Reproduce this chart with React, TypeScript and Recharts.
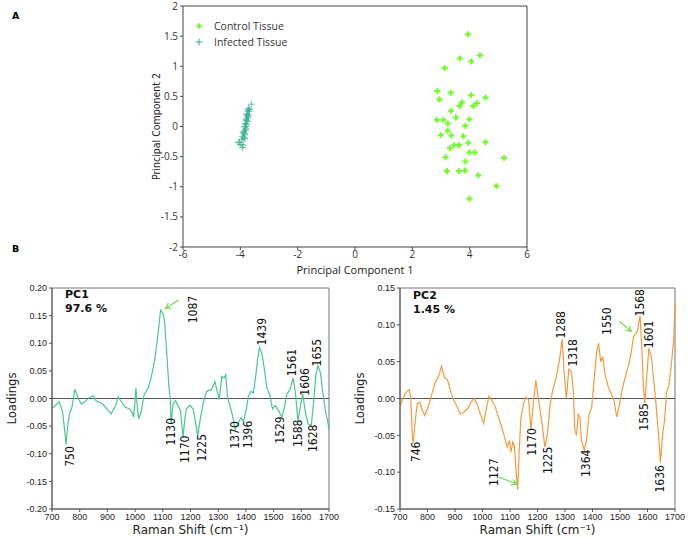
import React from 'react';
import {
  ScatterChart, Scatter, LineChart, Line, XAxis, YAxis, Legend,
  ReferenceLine, ReferenceArea, ReferenceDot,
} from 'recharts';

// ---- panel A: PCA scores ----
const CTRL_X = [3.94, 3.66, 4.36, 4.05, 3.13, 2.87, 3.34, 2.94, 4.05, 4.55, 3.73, 3.65, 4.26, 4.13, 3.35, 2.86, 3.08, 3.52, 3.99, 3.24,
  3.85, 3.23, 2.99, 3.36, 3.78, 3.95, 4.55, 3.45, 3.63, 3.31, 3.99, 4.18, 3.16, 5.20, 3.85, 3.21, 3.63, 3.84, 4.30, 4.93, 3.99];
const CTRL_Y = [1.53, 1.13, 1.18, 1.08, 0.97, 0.59, 0.56, 0.45, 0.52, 0.48, 0.40, 0.34, 0.39, 0.34, 0.26, 0.11, 0.11, 0.15, 0.12, 0.05,
  0.01, -0.07, -0.14, -0.15, -0.16, -0.27, -0.26, -0.31, -0.31, -0.36, -0.43, -0.43, -0.51, -0.52, -0.58, -0.74, -0.74, -0.73, -0.81, -0.99, -1.20];

const INF_X = [-3.62, -3.74, -3.70, -3.78, -3.72, -3.80, -3.74, -3.83, -3.78, -3.85, -3.81, -3.90, -3.86, -3.92, -3.84, -3.95, -4.03,
  -3.98, -3.93, -3.90, -4.08, -3.76, -3.71, -3.81, -3.87, -3.79, -3.73, -3.85, -3.82, -3.88, -3.68, -3.76];
const INF_Y = [0.37, 0.27, 0.25, 0.21, 0.16, 0.12, 0.08, 0.05, 0.03, -0.01, -0.06, -0.10, -0.14, -0.17, -0.20, -0.22, -0.26,
  -0.30, -0.35, -0.31, -0.27, 0.18, 0.30, 0.00, -0.08, 0.10, 0.20, -0.12, -0.04, -0.19, 0.28, 0.14];

const PCA_X_TICKS = [-6, -4, -2, 0, 2, 4, 6];
const PCA_Y_TICKS = [-2, -1.5, -1, -0.5, 0, 0.5, 1, 1.5, 2];

// ---- panel B: loadings ----
const PC1_W = [700, 726, 738, 747, 751, 756, 763, 771, 783, 795, 807, 825, 835, 850, 859, 883, 907, 913, 931, 939,
  949, 965, 980, 989, 994, 999, 1003, 1008, 1013, 1022, 1032, 1047, 1059, 1071, 1083, 1092, 1101, 1107, 1115, 1122,
  1127, 1130, 1137, 1146, 1155, 1164, 1173, 1179, 1185, 1198, 1210, 1226, 1234, 1246, 1258, 1276, 1288, 1294, 1304, 1313,
  1321, 1327, 1334, 1343, 1351, 1361, 1373, 1382, 1391, 1399, 1409, 1419, 1427, 1436, 1443, 1449, 1457, 1466, 1475, 1487,
  1496, 1506, 1518, 1530, 1540, 1548, 1560, 1570, 1578, 1588, 1596, 1605, 1615, 1624, 1636, 1645, 1653, 1660, 1669, 1677,
  1687, 1697, 1700];
const PC1_V = [-0.018, -0.006, -0.024, -0.063, -0.083, -0.053, -0.028, -0.018, 0.017, -0.001, -0.010, -0.003, 0.002, 0.005, -0.004, -0.010, -0.024, -0.028, -0.012, 0.003,
  -0.005, -0.016, -0.019, -0.025, -0.034, -0.010, 0.019, -0.015, -0.037, -0.024, 0.006, 0.019, 0.040, 0.070, 0.118, 0.160, 0.154, 0.136, 0.076, 0.022,
  0.000, -0.045, -0.010, -0.004, -0.013, -0.022, -0.070, -0.040, -0.019, -0.012, -0.019, -0.068, -0.041, -0.008, 0.013, 0.016, 0.031, 0.018, -0.002, 0.040,
  0.037, 0.043, 0.001, -0.014, -0.029, -0.056, -0.044, -0.035, -0.041, -0.026, 0.004, 0.013, 0.010, 0.043, 0.074, 0.092, 0.083, 0.056, 0.020, 0.005,
  -0.019, -0.013, -0.022, -0.034, -0.013, 0.008, 0.017, 0.037, 0.014, -0.041, -0.016, 0.008, -0.025, -0.046, -0.049, -0.004, 0.044, 0.059, 0.047, 0.014,
  -0.022, -0.046, -0.058];

const PC2_W = [700, 708, 720, 733, 739, 745, 748, 757, 763, 772, 781, 790, 800, 810, 818, 830, 842, 851, 861, 873,
  885, 895, 907, 919, 934, 946, 958, 970, 982, 994, 1004, 1013, 1023, 1034, 1046, 1058, 1070, 1080, 1090, 1098,
  1104, 1110, 1116, 1122, 1128, 1134, 1140, 1150, 1158, 1168, 1176, 1186, 1194, 1203, 1215, 1227, 1236, 1245, 1255, 1267,
  1279, 1290, 1297, 1305, 1314, 1324, 1330, 1336, 1342, 1348, 1354, 1360, 1370, 1378, 1388, 1397, 1405, 1415, 1422, 1430,
  1437, 1445, 1457, 1470, 1478, 1488, 1498, 1507, 1519, 1531, 1541, 1549, 1557, 1563, 1573, 1580, 1585, 1590, 1598, 1605,
  1614, 1622, 1632, 1641, 1647, 1655, 1662, 1669, 1677, 1686, 1696, 1700];
const PC2_V = [-0.012, -0.002, 0.007, 0.012, 0.002, -0.052, -0.060, -0.025, -0.007, -0.005, -0.016, -0.023, -0.014, -0.002, 0.009, 0.023, 0.032, 0.044, 0.029, 0.025,
  0.009, -0.002, -0.011, -0.021, -0.018, -0.014, -0.005, 0.000, -0.009, -0.023, -0.034, -0.016, 0.003, -0.002, -0.011, -0.025, -0.039, -0.052, -0.066, -0.057,
  -0.073, -0.059, -0.064, -0.098, -0.124, -0.066, -0.025, -0.007, 0.002, -0.002, -0.043, -0.002, 0.025, 0.000, -0.030, -0.066, -0.048, -0.011, 0.011, 0.027,
  0.050, 0.081, 0.034, 0.000, 0.040, 0.036, 0.011, -0.043, -0.050, -0.021, -0.025, -0.057, -0.070, -0.057, -0.021, -0.012, 0.022, 0.063, 0.075, 0.050,
  0.057, 0.034, 0.016, 0.005, -0.002, -0.025, -0.009, 0.011, 0.029, 0.045, 0.063, 0.084, 0.088, 0.091, 0.113, 0.063, 0.016, -0.006, 0.034, 0.068,
  0.057, 0.027, -0.012, -0.053, -0.087, -0.048, -0.030, 0.007, 0.016, 0.043, 0.084, 0.130];

const RAMAN_TICKS = [700, 800, 900, 1000, 1100, 1200, 1300, 1400, 1500, 1600, 1700];
const PC1_TICKS = [-0.2, -0.15, -0.1, -0.05, 0, 0.05, 0.1, 0.15, 0.2];
const PC2_TICKS = [-0.15, -0.1, -0.05, 0, 0.05, 0.1, 0.15];

// peak labels: text, x, y of the label centre
const PC1_LABELS = ['750', '1130', '1170', '1225', '1370', '1396', '1529', '1588', '1628', '1606', '1561', '1655', '1439', '1087'];
const PC1_LX = [764, 1128, 1181, 1240, 1359, 1408, 1522, 1589, 1642, 1613, 1565, 1657, 1458, 1209];
const PC1_LY = [-0.105, -0.060, -0.092, -0.089, -0.066, -0.065, -0.057, -0.063, -0.072, 0.030, 0.065, 0.083, 0.121, 0.161];

const PC2_LABELS = ['746', '1127', '1170', '1225', '1364', '1288', '1318', '1550', '1568', '1601', '1585', '1636'];
const PC2_LX = [759, 1043, 1179, 1240, 1376, 1287, 1330, 1454, 1573, 1607, 1587, 1646];
const PC2_LY = [-0.0725, -0.100, -0.059, -0.084, -0.088, 0.100, 0.062, 0.105, 0.130, 0.087, -0.025, -0.109];

const ctrlData = CTRL_X.map((x, i) => ({ x, y: CTRL_Y[i] }));
const infData = INF_X.map((x, i) => ({ x, y: INF_Y[i] }));
const pc1Data = PC1_W.map((w, i) => ({ w, v: PC1_V[i] }));
const pc2Data = PC2_W.map((w, i) => ({ w, v: PC2_V[i] }));

const ARROW_GREEN = '#7ddc5c';
const NARROW = '"Liberation Sans Narrow", "DejaVu Sans Condensed", "Liberation Sans", sans-serif';

function Plus({ cx, cy, r, color, sw, op }: any) {
  if (cx == null || cy == null) return null;
  return (
    <g stroke={color} strokeWidth={sw} opacity={op}>
      <line x1={cx - r} y1={cy} x2={cx + r} y2={cy} />
      <line x1={cx} y1={cy - r} x2={cx} y2={cy + r} />
    </g>
  );
}

function Arrow(p: any) {
  const { x1, y1, x2, y2 } = p;
  if (x1 == null) return null;
  const a = Math.atan2(y2 - y1, x2 - x1);
  const h = 6;
  const ax = x2 - h * Math.cos(a - 0.5), ay = y2 - h * Math.sin(a - 0.5);
  const bx = x2 - h * Math.cos(a + 0.5), by = y2 - h * Math.sin(a + 0.5);
  return (
    <g stroke={ARROW_GREEN} strokeWidth={1.3} fill="none">
      <line x1={x1} y1={y1} x2={x2} y2={y2} />
      <polyline points={`${ax},${ay} ${x2},${y2} ${bx},${by}`} />
    </g>
  );
}

function PeakLabel({ cx, cy, text }: any) {
  if (cx == null) return null;
  return (
    <text x={cx} y={cy} transform={`rotate(-90 ${cx} ${cy})`} textAnchor="middle" dominantBaseline="central"
          fontSize={12} fontFamily={NARROW} fill="#111">
      {text}
    </text>
  );
}

function PcaLegend() {
  const row = (color: string, sw: number, r: number, label: string) => (
    <div style={{ display: 'flex', alignItems: 'center', height: 16 }}>
      <svg width={14} height={12}>
        <Plus cx={5} cy={6} r={r} color={color} sw={sw} op={1} />
      </svg>
      <span style={{ marginLeft: 6, fontSize: 10.5, color: '#333' }}>{label}</span>
    </div>
  );
  return (
    <div>
      {row('#6cff24', 2, 2.5, 'Control Tissue')}
      {row('#2fae8e', 1, 3.5, 'Infected Tissue')}
    </div>
  );
}

const axisB = { stroke: '#555' };
const tickB = { fontSize: 9, fill: '#222', fontFamily: '"Liberation Sans", sans-serif' };
const fmt2 = (v: number) => v.toFixed(2);

function Loadings({ data, color, ticks, domain, labels, lx, ly, arrows, margin }: any) {
  return (
    <LineChart width={344} height={268} data={data} margin={margin}>
      <XAxis dataKey="w" type="number" domain={[700, 1700]} ticks={RAMAN_TICKS} height={27} tickSize={3} tickMargin={2}
             stroke={axisB.stroke} tick={tickB} interval={0}
             label={{ value: 'Raman Shift (cm⁻¹)', position: 'insideBottom', offset: 2, fontSize: 12, fill: '#222',
                      fontFamily: '"DejaVu Sans", sans-serif' }} />
      <YAxis type="number" domain={domain} ticks={ticks} width={48} tickSize={3} tickMargin={2} interval={0}
             stroke={axisB.stroke} tick={tickB} tickFormatter={fmt2} allowDataOverflow
             label={{ value: 'Loadings', angle: -90, position: 'insideLeft', offset: 7, fontSize: 13, fill: '#222',
                      fontFamily: NARROW, style: { textAnchor: 'middle' } }} />
      <ReferenceArea x1={700} x2={1700} y1={domain[0]} y2={domain[1]} fill="none" stroke="#777" ifOverflow="visible" />
      <ReferenceLine y={0} stroke="#555" strokeWidth={1} />
      <Line dataKey="v" type="linear" stroke={color} strokeWidth={1.2} dot={false} isAnimationActive={false} />
      {labels.map((t: string, i: number) => (
        <ReferenceDot key={t + i} x={lx[i]} y={ly[i]} r={0} ifOverflow="visible"
                      shape={(p: any) => <PeakLabel cx={p.cx} cy={p.cy} text={t} />} />
      ))}
      {arrows.map((s: any, i: number) => (
        <ReferenceLine key={'a' + i} segment={s} ifOverflow="visible" shape={(p: any) => <Arrow {...p} />} />
      ))}
    </LineChart>
  );
}

export default function App() {
  return (
    <div style={{ position: 'absolute', left: 0, top: 0, width: 688, height: 538, background: '#fff',
                  fontFamily: '"Open Sans", sans-serif' }}>
      <div style={{ position: 'absolute', left: 12, top: 10, fontSize: 9.5, fontWeight: 700,
                    fontFamily: '"DejaVu Sans", sans-serif' }}>A</div>
      <div style={{ position: 'absolute', left: 12, top: 243, fontSize: 9.5, fontWeight: 700,
                    fontFamily: '"DejaVu Sans", sans-serif' }}>B</div>

      <div style={{ position: 'absolute', left: 0, top: 0 }}>
        <ScatterChart width={688} height={280} margin={{ top: 6, right: 161, bottom: 3, left: 153 }}>
          <XAxis dataKey="x" type="number" domain={[-6, 6]} ticks={PCA_X_TICKS} height={30} tickSize={3} tickMargin={1}
                 stroke="#444" tick={{ fontSize: 10, fill: '#333' }} interval={0}
                 label={{ value: 'Principal Component 1', position: 'insideBottom', offset: 3, fontSize: 11, fill: '#222' }} />
          <YAxis dataKey="y" type="number" domain={[-2, 2]} ticks={PCA_Y_TICKS} width={30} tickSize={3} tickMargin={2}
                 stroke="#444" tick={{ fontSize: 10, fill: '#333' }} interval={0}
                 label={{ value: 'Principal Component 2', angle: -90, position: 'insideLeft', offset: 3, fontSize: 10.5,
                          fill: '#222', fontFamily: NARROW, style: { textAnchor: 'middle' } }} />
          <XAxis xAxisId="top" orientation="top" type="number" domain={[-6, 6]} ticks={PCA_X_TICKS} mirror tick={false}
                 tickSize={3} stroke="#444" />
          <YAxis yAxisId="right" orientation="right" type="number" domain={[-2, 2]} ticks={PCA_Y_TICKS} mirror tick={false}
                 tickSize={3} stroke="#444" />
          <Legend layout="vertical" align="center" verticalAlign="middle" content={<PcaLegend />}
                  wrapperStyle={{ top: 18, left: 194, width: 120, height: 34 }} />
          <Scatter name="Infected Tissue" data={infData} isAnimationActive={false}
                   shape={(p: any) => <Plus cx={p.cx} cy={p.cy} r={3.5} color="#2fae8e" sw={1} op={0.75} />} />
          <Scatter name="Control Tissue" data={ctrlData} isAnimationActive={false}
                   shape={(p: any) => <Plus cx={p.cx} cy={p.cy} r={3} color="#6cff24" sw={2} op={1} />} />
        </ScatterChart>
      </div>

      <div style={{ position: 'absolute', left: 0, top: 270 }}>
        <Loadings data={pc1Data} color="#45c98f" ticks={PC1_TICKS} domain={[-0.2, 0.2]}
                  labels={PC1_LABELS} lx={PC1_LX} ly={PC1_LY}
                  arrows={[[{ x: 1157, y: 0.178 }, { x: 1109, y: 0.163 }]]}
                  margin={{ top: 18, right: 15, bottom: 2, left: 4 }} />
        <div style={{ position: 'absolute', left: 65, top: 18, fontSize: 11, fontWeight: 700, lineHeight: '14px',
                      fontFamily: '"DejaVu Sans", sans-serif', color: '#111' }}>PC1<br />97.6 %</div>
      </div>

      <div style={{ position: 'absolute', left: 344, top: 270 }}>
        <Loadings data={pc2Data} color="#f59a3c" ticks={PC2_TICKS} domain={[-0.15, 0.15]}
                  labels={PC2_LABELS} lx={PC2_LX} ly={PC2_LY}
                  arrows={[[{ x: 1061, y: -0.107 }, { x: 1125, y: -0.116 }], [{ x: 1498, y: 0.105 }, { x: 1541, y: 0.091 }]]}
                  margin={{ top: 18, right: 13, bottom: 2, left: 8 }} />
        <div style={{ position: 'absolute', left: 69, top: 19, fontSize: 11, fontWeight: 700, lineHeight: '14px',
                      fontFamily: '"DejaVu Sans", sans-serif', color: '#111' }}>PC2<br />1.45 %</div>
      </div>
    </div>
  );
}
